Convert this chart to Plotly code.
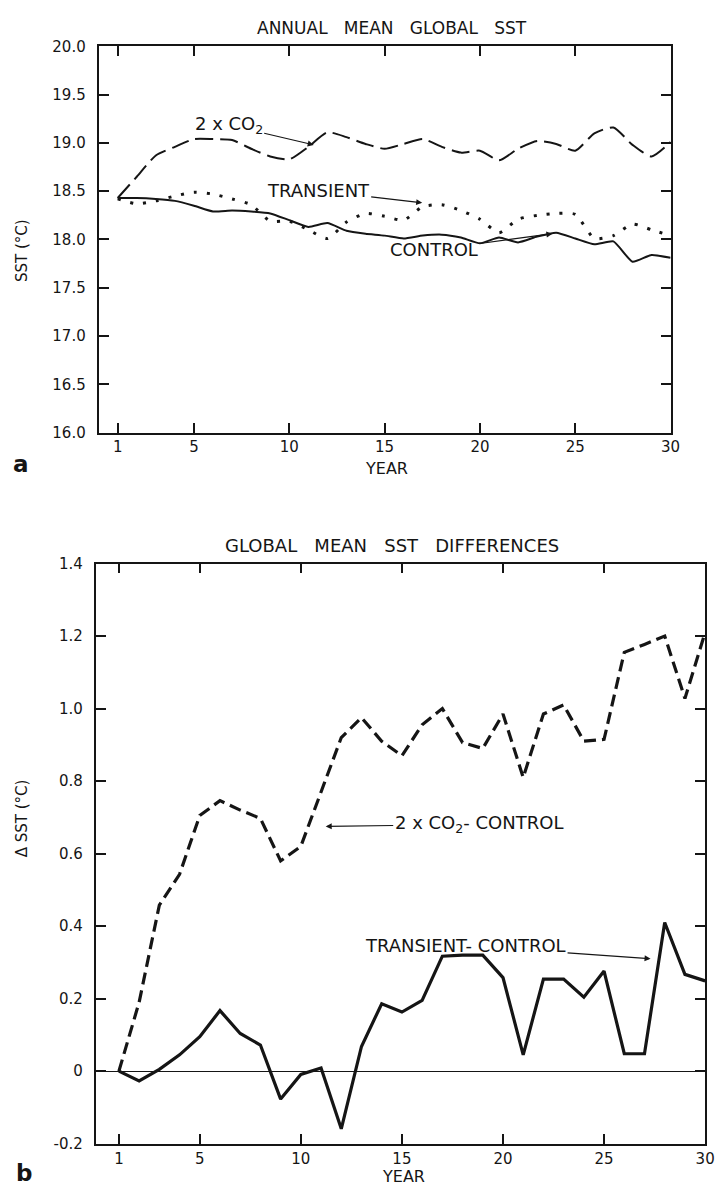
import plotly.graph_objects as go

years = list(range(1, 31))

# Panel a: annual mean global SST (deg C)
sst_2xco2 = [18.43, 18.65, 18.87, 18.96, 19.04, 19.04, 19.03, 18.94, 18.86, 18.83,
             18.96, 19.11, 19.06, 18.99, 18.94, 18.99, 19.04, 18.96, 18.90, 18.92,
             18.82, 18.94, 19.02, 18.99, 18.92, 19.10, 19.16, 18.98, 18.86, 19.01]
sst_transient = [18.42, 18.37, 18.40, 18.45, 18.49, 18.47, 18.42, 18.36, 18.19, 18.19,
                 18.10, 18.01, 18.18, 18.27, 18.24, 18.20, 18.34, 18.36, 18.30, 18.21,
                 18.07, 18.21, 18.25, 18.27, 18.26, 18.01, 18.04, 18.16, 18.10, 18.04]
sst_control = [18.43, 18.43, 18.42, 18.40, 18.35, 18.29, 18.30, 18.29, 18.27, 18.20,
               18.13, 18.17, 18.09, 18.06, 18.04, 18.01, 18.04, 18.05, 18.02, 17.96,
               18.02, 17.97, 18.03, 18.07, 18.01, 17.95, 17.98, 17.77, 17.84, 17.81]

# Panel b: global mean SST differences (deg C)
d_2xco2 = [0.0, 0.19, 0.458, 0.543, 0.705, 0.746, 0.72, 0.697, 0.58, 0.62,
           0.77, 0.92, 0.975, 0.91, 0.87, 0.955, 1.0, 0.906, 0.89, 0.985,
           0.81, 0.985, 1.01, 0.91, 0.915, 1.155, 1.177, 1.20, 1.028, 1.21]
d_transient = [0.0, -0.027, 0.005, 0.045, 0.095, 0.167, 0.104, 0.072, -0.077, -0.009,
               0.009, -0.159, 0.068, 0.186, 0.163, 0.195, 0.317, 0.32, 0.32, 0.258,
               0.045, 0.254, 0.254, 0.204, 0.276, 0.048, 0.048, 0.41, 0.267, 0.249]

xticks = [1, 5, 10, 15, 20, 25, 30]
yticks_a = [16.0, 16.5, 17.0, 17.5, 18.0, 18.5, 19.0, 19.5, 20.0]
yticks_b = [-0.2, 0, 0.2, 0.4, 0.6, 0.8, 1.0, 1.2, 1.4]
yticklabels_b = ["-0.2", "0", "0.2", "0.4", "0.6", "0.8", "1.0", "1.2", "1.4"]

FONT = "DejaVu Sans"
INK = "#151515"

fig = go.Figure()
fig.add_trace(go.Scatter(x=years, y=sst_2xco2, mode="lines", xaxis="x", yaxis="y",
                         line=dict(color=INK, width=2, dash="18px,7px", shape="spline", smoothing=0.6)))
fig.add_trace(go.Scatter(x=years, y=sst_transient, mode="lines", xaxis="x", yaxis="y",
                         line=dict(color=INK, width=3, dash="3px,10px", shape="spline", smoothing=0.6)))
fig.add_trace(go.Scatter(x=years, y=sst_control, mode="lines", xaxis="x", yaxis="y",
                         line=dict(color=INK, width=2, shape="spline", smoothing=0.5)))
fig.add_trace(go.Scatter(x=years, y=d_2xco2, mode="lines", xaxis="x2", yaxis="y2",
                         line=dict(color=INK, width=3.2, dash="12px,6px")))
fig.add_trace(go.Scatter(x=years, y=d_transient, mode="lines", xaxis="x2", yaxis="y2",
                         line=dict(color=INK, width=3.2)))

axis_common = dict(showline=True, linecolor=INK, linewidth=1.8, mirror="ticks",
                   ticks="inside", ticklen=10, tickwidth=1.6, tickcolor=INK,
                   showgrid=False, zeroline=False)
xfont = dict(family=FONT, size=15, color=INK)
yfont = dict(family=FONT, size=15, color=INK)

fig.update_layout(
    width=725, height=1196,
    margin=dict(l=0, r=0, t=0, b=0),
    paper_bgcolor="white", plot_bgcolor="white",
    showlegend=False,
    font=dict(family=FONT, color=INK),
    xaxis=dict(domain=[100/725, 680/725], range=[0, 30], tickvals=xticks,
               anchor="y", tickfont=xfont, **axis_common),
    yaxis=dict(domain=[1-430/1196, 1-38/1196], range=[16.0, 20.0], tickvals=yticks_a,
               ticktext=[f"{v:.1f}" for v in yticks_a], anchor="x",
               tickfont=yfont, ticklabelstandoff=8, **axis_common),
    xaxis2=dict(domain=[97/725, 715/725], range=[-0.15, 30], tickvals=xticks,
                anchor="y2", tickfont=xfont, **axis_common),
    yaxis2=dict(domain=[1-1152/1196, 1-563/1196], range=[-0.2, 1.4], tickvals=yticks_b,
                ticktext=yticklabels_b, anchor="x2",
                tickfont=yfont, ticklabelstandoff=8, **axis_common),
)
fig.layout.yaxis2.zeroline = True
fig.layout.yaxis2.zerolinecolor = INK
fig.layout.yaxis2.zerolinewidth = 1.2

def ptext(x, y, text, size=14, **kw):
    fig.add_annotation(x=x/725, y=1-y/1196, xref="paper", yref="paper", text=text,
                       xanchor="center", yanchor="middle",
                       showarrow=False, font=dict(family=FONT, size=size, color=INK), **kw)

# titles and axis labels
ptext(397, 19, "ANNUAL   MEAN   GLOBAL   SST", 17)
ptext(397, 545, "GLOBAL   MEAN   SST   DIFFERENCES", 18)
ptext(392, 467, "YEAR", 16)
ptext(409, 1185, "YEAR", 16)
ptext(23, 245, "SST (°C)", 15, textangle=-90)
ptext(22, 822, "Δ SST (°C)", 15, textangle=-90)
ptext(21, 462, "<b>a</b>", 23)
ptext(24, 1182, "<b>b</b>", 23)

def label(x, y, text, ax, ay, xr, yr, size=18):
    fig.add_annotation(x=x, y=y, xref=xr, yref=yr, text=text, showarrow=True,
                       arrowhead=2, arrowsize=1, arrowwidth=1.2, arrowcolor=INK,
                       ax=ax, ay=ay, axref="pixel", ayref="pixel",
                       font=dict(family=FONT, size=size, color=INK))

label(11.28, 18.98, "2 x CO<sub>2</sub>", -85, -20, "x", "y")
label(16.97, 18.38, "TRANSIENT", -104, -12, "x", "y")
label(23.8, 18.06, "CONTROL", -118, 16, "x", "y")
label(11.23, 0.675, "2 x CO<sub>2</sub>- CONTROL", 153, -2, "x2", "y2")
label(27.3, 0.31, "TRANSIENT- CONTROL", -185, -13, "x2", "y2")

fig.write_html("out.html")
